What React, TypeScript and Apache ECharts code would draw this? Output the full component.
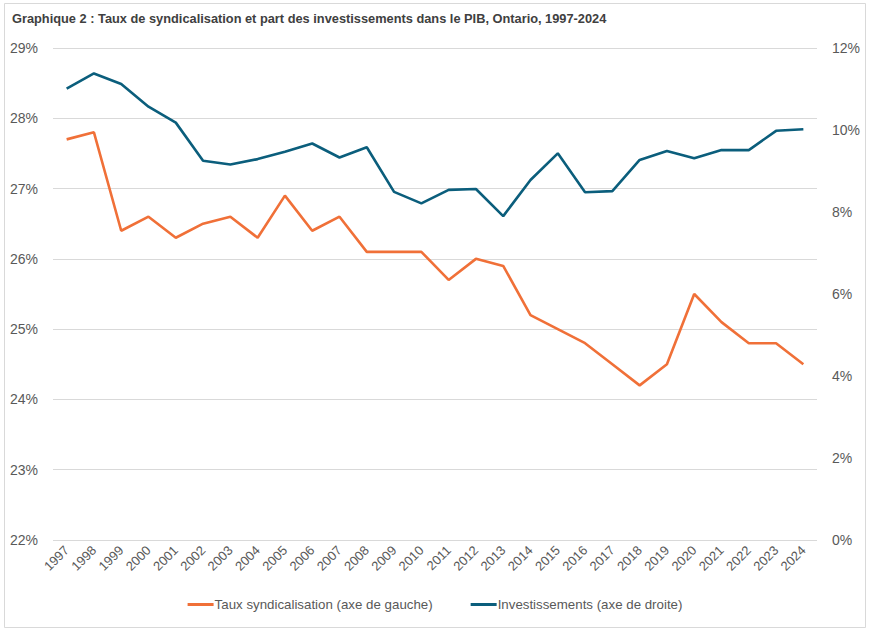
import React, { useEffect, useRef } from "react";
import * as echarts from "echarts";

const years = [
  "1997", "1998", "1999", "2000", "2001", "2002", "2003", "2004", "2005", "2006",
  "2007", "2008", "2009", "2010", "2011", "2012", "2013", "2014", "2015", "2016",
  "2017", "2018", "2019", "2020", "2021", "2022", "2023", "2024",
];

const tauxSyndicalisation = [
  27.7, 27.8, 26.4, 26.6, 26.3, 26.5, 26.6, 26.3, 26.9, 26.4,
  26.6, 26.1, 26.1, 26.1, 25.7, 26.0, 25.9, 25.2, 25.0, 24.8,
  24.5, 24.2, 24.5, 25.5, 25.1, 24.8, 24.8, 24.5,
];

const investissements = [
  11.01, 11.38, 11.12, 10.57, 10.18, 9.25, 9.16, 9.29, 9.47, 9.67,
  9.33, 9.58, 8.49, 8.21, 8.54, 8.56, 7.9, 8.78, 9.43, 8.48,
  8.51, 9.27, 9.49, 9.31, 9.51, 9.51, 9.98, 10.02,
];

const titleText =
  "Graphique 2 : Taux de syndicalisation et part des investissements dans le PIB, Ontario, 1997-2024";
const legendLeft = "Taux syndicalisation (axe de gauche)";
const legendRight = "Investissements (axe de droite)";

const FONT = "'Liberation Sans Narrow', 'Liberation Sans', Roboto, sans-serif";
const ORANGE = "#F07038";
const BLUE = "#0B5E7C";

export default function App() {
  const ref = useRef<HTMLDivElement>(null);

  useEffect(() => {
    document.body.style.margin = "0";
    if (!ref.current) return;
    const chart = echarts.init(ref.current, null, { renderer: "svg" });
    chart.setOption({
      animation: false,
      backgroundColor: "#ffffff",
      textStyle: { fontFamily: FONT },
      title: {
        text: titleText,
        left: 7,
        top: 7,
        textStyle: { fontFamily: FONT, fontSize: 12.8, fontWeight: "bold", color: "#404040" },
      },
      graphic: [
        {
          type: "rect",
          shape: { x: 4.5, y: 3.5, width: 861, height: 624 },
          style: { fill: "none", stroke: "#d9d9d9", lineWidth: 1 },
          silent: true,
          z: -1,
        },
      ],
      legend: {
        bottom: 16,
        left: "center",
        itemWidth: 26,
        itemHeight: 3,
        itemGap: 38,
        icon: "rect",
        textStyle: { fontFamily: FONT, fontSize: 13.3, color: "#595959", padding: [0, 0, 0, -4] },
        data: [legendLeft, legendRight],
      },
      grid: { left: 53, right: 53, top: 48, bottom: 92, containLabel: false },
      xAxis: {
        type: "category",
        data: years,
        boundaryGap: true,
        axisLine: { show: false },
        axisTick: { show: false },
        axisLabel: {
          rotate: 45,
          interval: 0,
          fontFamily: FONT,
          fontSize: 13,
          color: "#595959",
          margin: 8,
        },
      },
      yAxis: [
        {
          type: "value",
          min: 22,
          max: 29,
          interval: 1,
          axisLine: { show: false },
          axisTick: { show: false },
          splitLine: { lineStyle: { color: "#d9d9d9", width: 1 } },
          axisLabel: {
            formatter: "{value}%",
            fontFamily: FONT,
            fontSize: 14,
            color: "#595959",
            margin: 15,
          },
        },
        {
          type: "value",
          min: 0,
          max: 12,
          interval: 2,
          axisLine: { show: false },
          axisTick: { show: false },
          splitLine: { show: false },
          axisLabel: {
            formatter: "{value}%",
            fontFamily: FONT,
            fontSize: 14,
            color: "#595959",
            margin: 15,
          },
        },
      ],
      series: [
        {
          name: legendLeft,
          type: "line",
          yAxisIndex: 0,
          data: tauxSyndicalisation,
          symbol: "none",
          lineStyle: { color: ORANGE, width: 2.6 },
          itemStyle: { color: ORANGE },
        },
        {
          name: legendRight,
          type: "line",
          yAxisIndex: 1,
          data: investissements,
          symbol: "none",
          lineStyle: { color: BLUE, width: 2.6 },
          itemStyle: { color: BLUE },
        },
      ],
    });
    return () => chart.dispose();
  }, []);

  return (
    <div
      ref={ref}
      style={{ position: "absolute", left: 0, top: 0, width: 870, height: 632 }}
    />
  );
}
